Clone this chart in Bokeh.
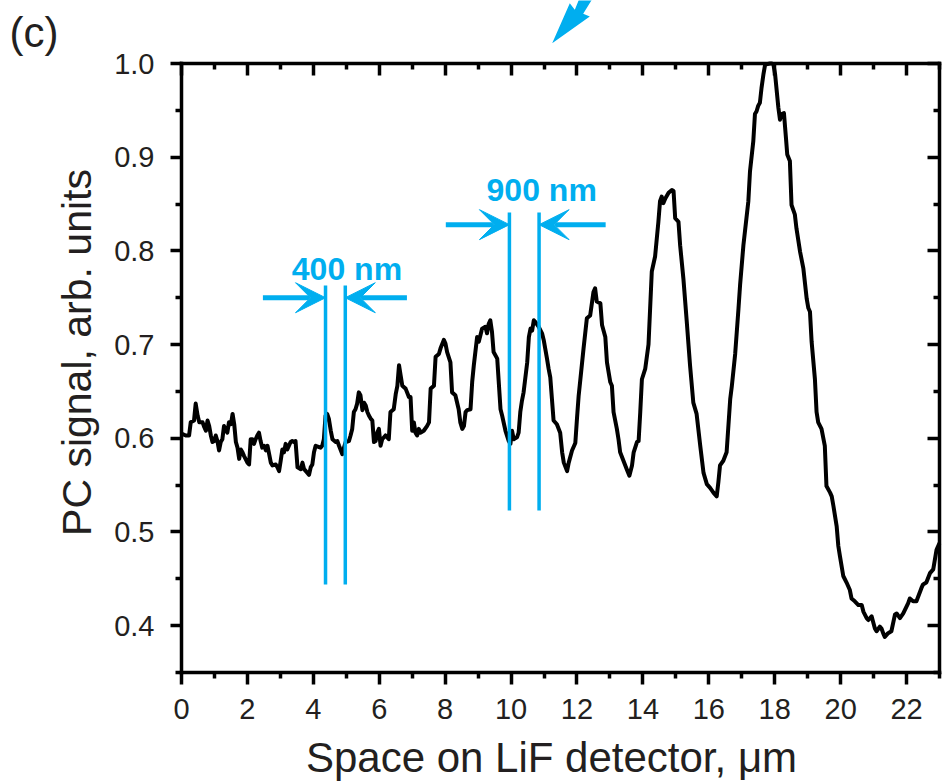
import math
from bokeh.plotting import figure
from bokeh.models import (Range1d, LinearAxis, FixedTicker, PrintfTickFormatter,
                          Arrow, VeeHead, ColumnDataSource)
from bokeh.core.properties import value
from bokeh.embed import file_html
from bokeh.resources import INLINE

# ---------------- data ----------------
space_um = [
    0.00, 0.13, 0.23, 0.28, 0.38, 0.43, 0.49, 0.54, 0.64, 0.69, 0.74, 0.79, 0.84, 0.89, 0.94, 0.99,
    1.04, 1.09, 1.14, 1.19, 1.24, 1.29, 1.39, 1.44, 1.50, 1.55, 1.60, 1.65, 1.70, 1.75, 1.80, 1.85,
    1.90, 2.00, 2.05, 2.10, 2.15, 2.20, 2.25, 2.30, 2.35, 2.40, 2.45, 2.51, 2.56, 2.61, 2.66, 2.71,
    2.76, 2.86, 2.91, 2.96, 3.01, 3.06, 3.11, 3.16, 3.21, 3.26, 3.31, 3.36, 3.41, 3.46, 3.52, 3.62,
    3.67, 3.72, 3.82, 3.87, 3.92, 3.97, 4.02, 4.07, 4.22, 4.27, 4.32, 4.37, 4.42, 4.47, 4.53, 4.58,
    4.68, 4.73, 4.78, 4.88, 4.93, 4.98, 5.08, 5.13, 5.18, 5.23, 5.28, 5.33, 5.38, 5.43, 5.49, 5.54,
    5.59, 5.64, 5.69, 5.74, 5.79, 5.84, 5.89, 5.94, 5.99, 6.04, 6.09, 6.19, 6.29, 6.34, 6.44, 6.50,
    6.55, 6.60, 6.65, 6.70, 6.80, 6.90, 6.95, 7.00, 7.05, 7.10, 7.15, 7.20, 7.25, 7.35, 7.45, 7.51,
    7.56, 7.66, 7.71, 7.81, 7.86, 7.96, 8.01, 8.06, 8.16, 8.21, 8.31, 8.41, 8.46, 8.52, 8.57, 8.62,
    8.67, 8.77, 8.82, 8.87, 8.97, 9.02, 9.12, 9.22, 9.27, 9.32, 9.37, 9.42, 9.47, 9.58, 9.68, 9.73,
    9.83, 9.93, 9.98, 10.03, 10.08, 10.18, 10.23, 10.28, 10.33, 10.38, 10.49, 10.54, 10.59, 10.64,
    10.69, 10.74, 10.84, 10.94, 10.99, 11.09, 11.14, 11.19, 11.29, 11.39, 11.49, 11.55, 11.60,
    11.70, 11.75, 11.85, 11.95, 12.00, 12.05, 12.10, 12.20, 12.30, 12.40, 12.50, 12.55, 12.60,
    12.71, 12.76, 12.86, 12.91, 13.01, 13.06, 13.11, 13.21, 13.26, 13.31, 13.41, 13.51, 13.59,
    13.67, 13.72, 13.82, 13.87, 13.92, 13.97, 14.07, 14.17, 14.27, 14.37, 14.47, 14.52, 14.57,
    14.62, 14.68, 14.78, 14.88, 14.93, 14.98, 15.03, 15.08, 15.13, 15.23, 15.33, 15.43, 15.53,
    15.63, 15.74, 15.84, 15.94, 16.04, 16.14, 16.24, 16.29, 16.34, 16.44, 16.54, 16.65, 16.70,
    16.80, 16.90, 16.95, 17.05, 17.20, 17.25, 17.35, 17.40, 17.45, 17.50, 17.55, 17.60, 17.66,
    17.71, 17.86, 17.91, 17.96, 18.01, 18.11, 18.16, 18.21, 18.28, 18.34, 18.38, 18.46, 18.51,
    18.61, 18.66, 18.77, 18.87, 18.97, 19.02, 19.07, 19.12, 19.22, 19.27, 19.32, 19.42, 19.52,
    19.57, 19.68, 19.73, 19.78, 19.88, 19.93, 19.98, 20.08, 20.18, 20.28, 20.33, 20.43, 20.54,
    20.64, 20.69, 20.79, 20.84, 20.94, 21.04, 21.09, 21.19, 21.24, 21.29, 21.34, 21.44, 21.54,
    21.65, 21.70, 21.80, 21.90, 22.05, 22.10, 22.20, 22.30, 22.45, 22.50, 22.60, 22.71, 22.81,
    22.91, 22.96, 23.00,
]
pc_signal = [
    0.605, 0.603, 0.603, 0.617, 0.619, 0.637, 0.624, 0.617, 0.617, 0.612, 0.608, 0.619, 0.613, 0.603, 0.596, 0.597,
    0.603, 0.597, 0.587, 0.596, 0.599, 0.613, 0.606, 0.617, 0.615, 0.626, 0.615, 0.596, 0.590, 0.578, 0.588, 0.585,
    0.581, 0.574, 0.572, 0.599, 0.599, 0.594, 0.599, 0.603, 0.606, 0.597, 0.590, 0.592, 0.587, 0.592, 0.583, 0.574,
    0.571, 0.572, 0.569, 0.565, 0.576, 0.588, 0.585, 0.594, 0.588, 0.592, 0.596, 0.597, 0.596, 0.597, 0.569, 0.567,
    0.574, 0.567, 0.563, 0.561, 0.569, 0.572, 0.585, 0.592, 0.590, 0.592, 0.599, 0.624, 0.626, 0.621, 0.608, 0.599,
    0.596, 0.597, 0.592, 0.583, 0.590, 0.596, 0.597, 0.603, 0.610, 0.628, 0.631, 0.637, 0.649, 0.646, 0.630, 0.638,
    0.635, 0.628, 0.624, 0.621, 0.619, 0.596, 0.597, 0.606, 0.610, 0.592, 0.599, 0.603, 0.599, 0.628, 0.631, 0.647,
    0.656, 0.678, 0.667, 0.656, 0.653, 0.644, 0.644, 0.608, 0.617, 0.606, 0.603, 0.610, 0.606, 0.608, 0.613, 0.617,
    0.653, 0.656, 0.687, 0.690, 0.696, 0.705, 0.701, 0.692, 0.681, 0.649, 0.646, 0.631, 0.617, 0.610, 0.613, 0.628,
    0.630, 0.631, 0.660, 0.678, 0.708, 0.703, 0.717, 0.719, 0.712, 0.722, 0.726, 0.714, 0.692, 0.685, 0.631, 0.624,
    0.608, 0.597, 0.594, 0.608, 0.599, 0.601, 0.606, 0.628, 0.640, 0.649, 0.681, 0.708, 0.717, 0.715,
    0.726, 0.724, 0.719, 0.712, 0.705, 0.685, 0.674, 0.665, 0.619, 0.615, 0.606, 0.585, 0.574,
    0.565, 0.574, 0.587, 0.595, 0.621, 0.645, 0.662, 0.696, 0.728, 0.731, 0.756, 0.760, 0.746,
    0.744, 0.721, 0.708, 0.681, 0.660, 0.656, 0.628, 0.610, 0.599, 0.585, 0.576, 0.567, 0.560,
    0.571, 0.585, 0.596, 0.597, 0.628, 0.663, 0.674, 0.700, 0.778, 0.794, 0.831, 0.853, 0.858,
    0.851, 0.856, 0.862, 0.865, 0.864, 0.835, 0.833, 0.831, 0.806, 0.770, 0.725, 0.678, 0.638,
    0.626, 0.592, 0.563, 0.551, 0.547, 0.542, 0.538, 0.553, 0.571, 0.576, 0.585, 0.642, 0.656,
    0.690, 0.738, 0.764, 0.806, 0.853, 0.885, 0.917, 0.946, 0.949, 0.955, 0.958, 0.974, 0.989,
    0.999, 1.000, 1.000, 0.999, 0.989, 0.953, 0.940, 0.946, 0.947, 0.921, 0.903, 0.896, 0.849,
    0.839, 0.824, 0.799, 0.781, 0.749, 0.739, 0.735, 0.703, 0.663, 0.628, 0.617, 0.610, 0.592,
    0.549, 0.542, 0.538, 0.528, 0.506, 0.485, 0.474, 0.453, 0.446, 0.438, 0.429, 0.426, 0.422,
    0.422, 0.415, 0.408, 0.406, 0.410, 0.397, 0.394, 0.399, 0.397, 0.392, 0.388, 0.392, 0.394,
    0.412, 0.413, 0.408, 0.413, 0.424, 0.429, 0.426, 0.426, 0.440, 0.444, 0.446, 0.456, 0.460,
    0.481, 0.485, 0.488,
]

x_major_ticks = [0, 2, 4, 6, 8, 10, 12, 14, 16, 18, 20, 22]
x_minor_ticks = [1, 3, 5, 7, 9, 11, 13, 15, 17, 19, 21, 23]
y_major_ticks = [0.4, 0.5, 0.6, 0.7, 0.8, 0.9, 1.0]
y_minor_ticks = [0.35, 0.45, 0.55, 0.65, 0.75, 0.85, 0.95]
x_limits = [0.0, 23.0]
y_limits = [0.35, 1.0]

# blue period markers (vertical lines)
marker_x = [4.37, 4.97, 9.95, 10.85]
marker_y0 = [0.444, 0.444, 0.523, 0.523]
marker_y1 = [0.763, 0.763, 0.841, 0.841]

# blue arrows pointing at the markers
arrow_x_start = [2.47, 6.84, 8.02, 12.87]
arrow_x_end = [4.37, 4.97, 9.95, 10.85]
arrow_y = [0.750, 0.750, 0.828, 0.828]

# annotation texts
note_text = ["400 nm", "900 nm"]
note_x = [5.02, 10.93]
note_y = [0.781, 0.865]

# texts
x_title = "Space on LiF detector, \u03bcm"
y_title = "PC signal, arb. units"
panel_letter = "(c)"

# tail of a blue arrow from the neighbouring panel (above the frame)
bolt_x = [11.248, 11.782, 11.934, 12.085, 12.492, 12.189, 12.389]
bolt_y = [1.0217, 1.0644, 1.0573, 1.0704, 1.0704, 1.0530, 1.0502]

CYAN = "#00AEEF"
FONT = "Liberation Sans"
TXT = "#231F20"

# ---------------- layout (pixels) ----------------
W, H = 944, 781
BOX_L, BOX_R, BOX_T, BOX_B = 181, 939, 63, 672
sx = (BOX_R - BOX_L) / (x_limits[1] - x_limits[0])
sy = (BOX_B - BOX_T) / (y_limits[1] - y_limits[0])

def px2x(px):
    return x_limits[0] + (px - BOX_L) / sx

def px2y(py):
    return y_limits[1] - (py - BOX_T) / sy

p = figure(width=W, height=H,
           x_range=Range1d(px2x(0), px2x(W)), y_range=Range1d(px2y(H), px2y(0)),
           output_backend="svg", toolbar_location=None,
           x_axis_location=None, y_axis_location=None,
           min_border=0, min_border_left=0, min_border_right=0,
           min_border_top=0, min_border_bottom=0,
           background_fill_color="white", border_fill_color="white")
p.outline_line_color = None
p.xgrid.visible = False
p.ygrid.visible = False

xt = FixedTicker(ticks=x_major_ticks, minor_ticks=x_minor_ticks)
yt = FixedTicker(ticks=y_major_ticks, minor_ticks=y_minor_ticks)

def make_axis(ticker, loc, bounds, tick_in, tick_out, minor_in, minor_out, labels, fmt=None, standoff=0):
    ax = LinearAxis(ticker=ticker, fixed_location=loc, bounds=tuple(bounds))
    ax.axis_line_width = 3.5
    ax.axis_line_color = "black"
    ax.axis_line_cap = "square"
    ax.major_tick_line_width = 3.5
    ax.minor_tick_line_width = 3.5
    ax.major_tick_line_color = "black"
    ax.minor_tick_line_color = "black"
    ax.major_tick_in = tick_in
    ax.major_tick_out = tick_out
    ax.minor_tick_in = minor_in
    ax.minor_tick_out = minor_out
    if labels:
        ax.formatter = fmt
        ax.major_label_text_font = FONT
        ax.major_label_text_color = TXT
        ax.major_label_text_font_size = "29px"
        ax.major_label_standoff = standoff
    else:
        ax.major_label_text_font_size = "0px"
        ax.major_label_text_color = None
        ax.major_label_standoff = 0
    return ax

p.add_layout(make_axis(xt, y_limits[0], x_limits, 0, 12, 0, 6, True,
                       PrintfTickFormatter(format="%d"), 14), "below")
p.add_layout(make_axis(yt, x_limits[0], y_limits, 0, 11, 0, 6, True,
                       PrintfTickFormatter(format="%.1f"), 16), "left")
p.add_layout(make_axis(xt, y_limits[1], x_limits, 12, 0, 6, 0, False), "above")
p.add_layout(make_axis(yt, x_limits[1], y_limits, 12, 0, 6, 0, False), "right")

# data curve
p.line(space_um, pc_signal, line_color="black", line_width=4, line_join="round")

# blue markers and arrows
p.segment(x0=marker_x, y0=marker_y0, x1=marker_x, y1=marker_y1,
          line_color=CYAN, line_width=3.5)
arr_src = ColumnDataSource(dict(x0=arrow_x_start, x1=arrow_x_end, y=arrow_y))
p.add_layout(Arrow(source=arr_src, x_start="x0", y_start="y", x_end="x1", y_end="y",
                   line_color=CYAN, line_width=5,
                   end=VeeHead(size=30, fill_color=CYAN, line_color=CYAN, line_width=1)))
p.text(x=note_x, y=note_y, text=note_text, text_align="center", text_baseline="middle",
       text_font=value(FONT), text_font_style="bold", text_font_size=value("32px"),
       text_color=CYAN)

# piece of the neighbouring panel's arrow
p.patch(bolt_x, bolt_y, fill_color=CYAN, line_color=None)

# axis titles and panel letter
p.text(x=[px2x(551)], y=[px2y(757)], text=[x_title], text_align="center",
       text_baseline="alphabetic", text_font=value(FONT), text_font_size=value("42px"),
       text_color=TXT)
p.text(x=[px2x(76)], y=[px2y(352)], text=[y_title], angle=math.pi / 2,
       text_align="center", text_baseline="alphabetic", text_font=value(FONT),
       text_font_size=value("41px"), text_color=TXT)
p.text(x=[px2x(9)], y=[px2y(32)], text=[panel_letter], text_align="left",
       text_baseline="alphabetic", text_font=value(FONT), text_font_size=value("42px"),
       text_color=TXT)

open("out.html", "w").write(file_html(p, INLINE))
